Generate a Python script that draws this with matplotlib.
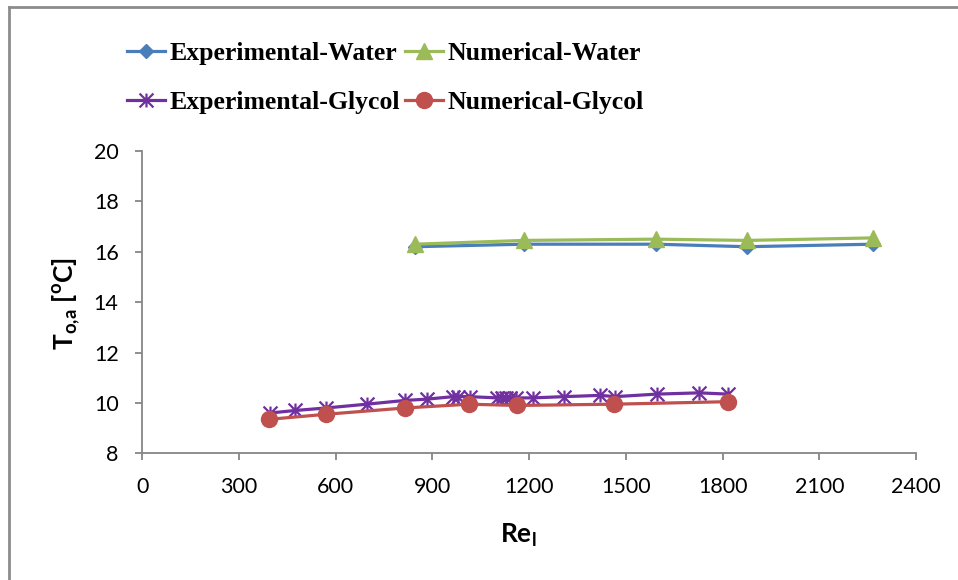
import numpy as np
import matplotlib
matplotlib.use("Agg")
import matplotlib.pyplot as plt
from matplotlib.path import Path
from matplotlib.lines import Line2D

# Reynolds number and outlet air temperature
re_exp_water = [846, 1184, 1594, 1875, 2266]
t_exp_water = [16.2, 16.3, 16.3, 16.2, 16.3]

re_num_water = [846, 1184, 1594, 1875, 2266]
t_num_water = [16.3, 16.45, 16.5, 16.45, 16.55]

re_exp_glycol = [396, 474, 570, 696, 815, 882, 965, 980, 1015, 1101, 1115,
                 1129, 1141, 1158, 1211, 1309, 1420, 1467, 1596, 1727, 1817]
t_exp_glycol = [9.6, 9.7, 9.8, 9.95, 10.1, 10.15, 10.25, 10.25, 10.25, 10.2, 10.2,
                10.2, 10.2, 10.2, 10.2, 10.25, 10.3, 10.25, 10.35, 10.4, 10.35]

re_num_glycol = [394, 570, 815, 1014, 1162, 1463, 1817]
t_num_glycol = [9.35, 9.55, 9.8, 9.95, 9.9, 9.95, 10.05]

x_ticks = [0, 300, 600, 900, 1200, 1500, 1800, 2100, 2400]
y_ticks = [8, 10, 12, 14, 16, 18, 20]

tick_font = "Lato"
plt.rcParams["mathtext.fontset"] = "custom"
plt.rcParams["mathtext.rm"] = tick_font
plt.rcParams["mathtext.bf"] = tick_font + ":bold"

# excel style star: vertical bar + x
star = Path([(0, -1), (0, 1), (-1, -1), (1, 1), (-1, 1), (1, -1)],
            [Path.MOVETO, Path.LINETO, Path.MOVETO, Path.LINETO, Path.MOVETO, Path.LINETO])

fig = plt.figure(figsize=(9.58, 5.8), dpi=100)
ax = fig.add_axes([0.1485, 0.2184, 0.8077, 0.5213])

lw = 2.3
l1, = ax.plot(re_exp_water, t_exp_water, color="#4A7EBB", lw=lw, marker="D", ms=7.5,
              label="Experimental-Water")
l2, = ax.plot(re_num_water, t_num_water, color="#9BBB59", lw=lw, marker="^", ms=11,
              label="Numerical-Water")
l3, = ax.plot(re_exp_glycol, t_exp_glycol, color="#7030A0", lw=lw, marker=star, ms=10,
              mew=1.6, label="Experimental-Glycol")
l4, = ax.plot(re_num_glycol, t_num_glycol, color="#C0504D", lw=lw, marker="o", ms=11.5,
              label="Numerical-Glycol")

ax.set_xlim(0, 2400)
ax.set_ylim(8, 20)
ax.set_xticks(x_ticks)
ax.set_yticks(y_ticks)

for s in ["top", "right"]:
    ax.spines[s].set_visible(False)
for s in ["left", "bottom"]:
    ax.spines[s].set_color("#868686")
    ax.spines[s].set_linewidth(1.3)
ax.tick_params(direction="out", length=5, width=1.3, color="#868686",
               labelsize=15.5, pad=12)
for lab in ax.get_xticklabels() + ax.get_yticklabels():
    lab.set_fontfamily(tick_font)

ax.set_xlabel(r"Re$_\mathbf{l}$", fontsize=19, fontweight="bold",
              fontfamily=tick_font, va="center")
ax.xaxis.set_label_coords(0.4856, -0.27)
ax.set_ylabel(r"T$_\mathbf{o{,}a}$ [$^\mathbf{o}$C]", fontsize=19, fontweight="bold",
              fontfamily=tick_font, va="center")
ax.yaxis.set_label_coords(-0.098, 0.497)

fig.legend([l1, l3, l2, l4],
           ["Experimental-Water", "Experimental-Glycol", "Numerical-Water", "Numerical-Glycol"],
           ncol=2, loc="center", bbox_to_anchor=(0.402, 0.866), frameon=False,
           prop={"family": "Liberation Serif", "weight": "bold", "size": 18.5},
           handlelength=1.5, handletextpad=0.15, columnspacing=0.2, labelspacing=1.0,
           borderpad=0, borderaxespad=0)

# outer chart frame (top and left edges visible)
fig.add_artist(Line2D([9 / 958, 1], [1 - 7 / 580, 1 - 7 / 580], color="#8C8C8C", lw=2,
                      transform=fig.transFigure))
fig.add_artist(Line2D([9 / 958, 9 / 958], [0, 1 - 7 / 580], color="#8C8C8C", lw=2,
                      transform=fig.transFigure))

fig.savefig("out.png", dpi=100)
